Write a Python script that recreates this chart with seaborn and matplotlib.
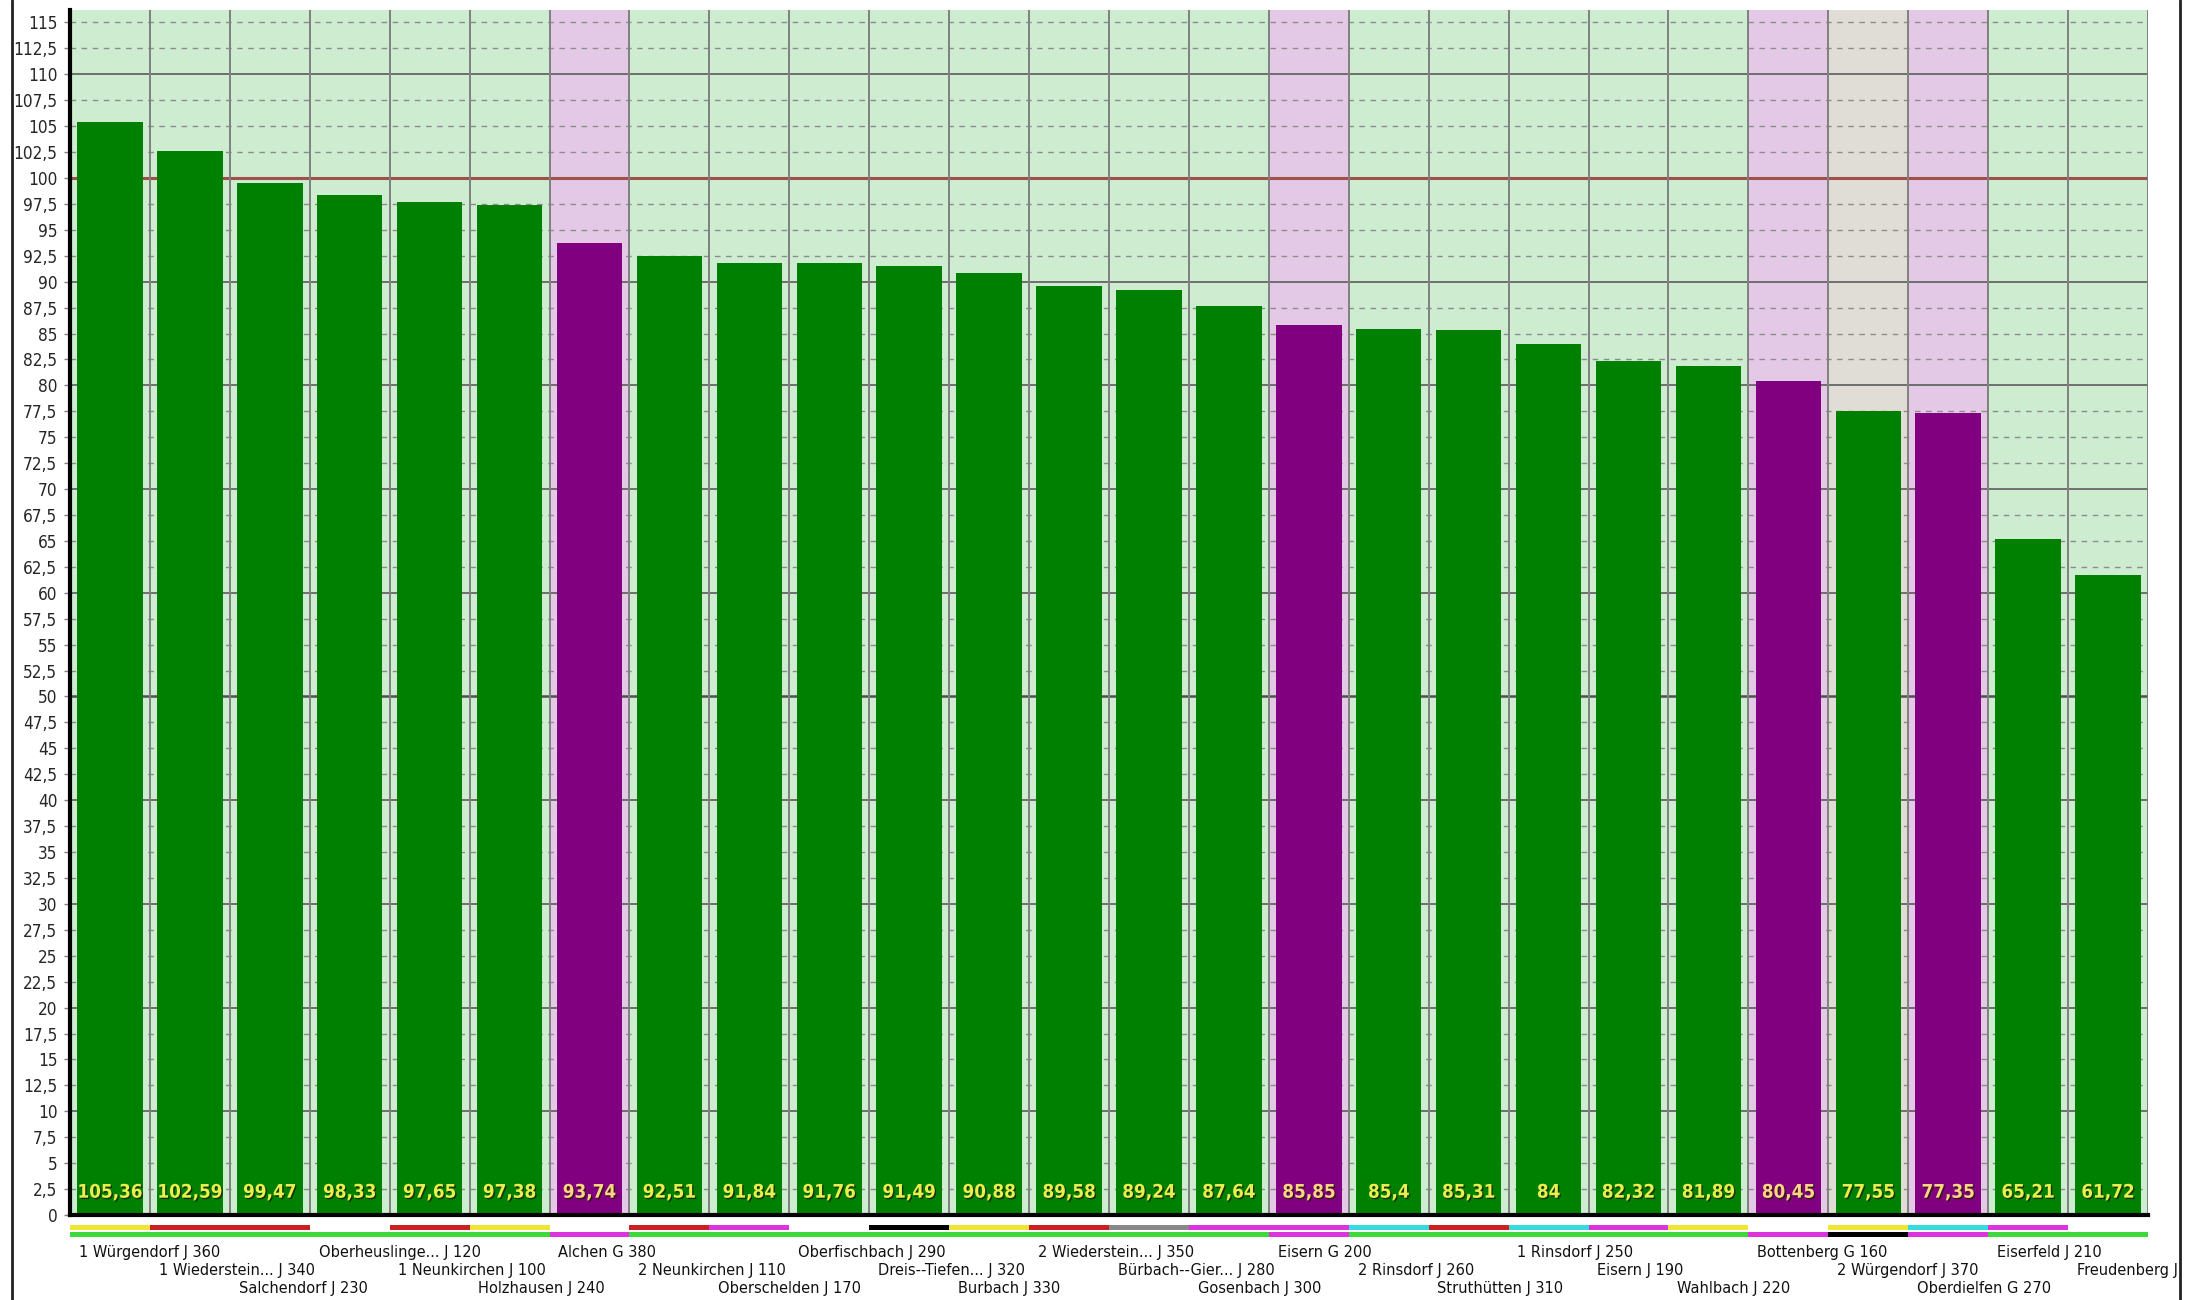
import numpy as np
import matplotlib
matplotlib.use("Agg")
import matplotlib.pyplot as plt
import matplotlib.patheffects as pe
from matplotlib.lines import Line2D
import seaborn as sns

# ---- data ------------------------------------------------------------
names = [
    "1 Würgendorf J 360", "1 Wiederstein... J 340", "Salchendorf J 230",
    "Oberheuslinge... J 120", "1 Neunkirchen J 100", "Holzhausen J 240",
    "Alchen G 380", "2 Neunkirchen J 110", "Oberschelden J 170",
    "Oberfischbach J 290", "Dreis--Tiefen... J 320", "Burbach J 330",
    "2 Wiederstein... J 350", "Bürbach--Gier... J 280", "Gosenbach J 300",
    "Eisern G 200", "2 Rinsdorf J 260", "Struthütten J 310",
    "1 Rinsdorf J 250", "Eisern J 190", "Wahlbach J 220",
    "Bottenberg G 160", "2 Würgendorf J 370", "Oberdielfen G 270",
    "Eiserfeld J 210", "Freudenberg J",
]
values = [105.36, 102.59, 99.47, 98.33, 97.65, 97.38, 93.74, 92.51, 91.84,
          91.76, 91.49, 90.88, 89.58, 89.24, 87.64, 85.85, 85.4, 85.31,
          84, 82.32, 81.89, 80.45, 77.55, 77.35, 65.21, 61.72]
groups = ["J", "J", "J", "J", "J", "J", "G", "J", "J", "J", "J", "J", "J",
          "J", "J", "G", "J", "J", "J", "J", "J", "G", "J", "G", "J", "J"]
slot_bg = ["green"] * 6 + ["pink"] + ["green"] * 8 + ["pink"] + ["green"] * 5 \
    + ["pink", "grey", "pink"] + ["green"] * 2
stripe_top = ["yellow", "red", "red", None, "red", "yellow", None, "red",
              "magenta", None, "black", "yellow", "red", "grey", "magenta",
              "magenta", "cyan", "red", "cyan", "magenta", "yellow", None,
              "yellow", "cyan", "magenta", None]
stripe_bottom = ["green"] * 6 + ["magenta"] + ["green"] * 8 + ["magenta"] \
    + ["green"] * 5 + ["magenta", "black", "magenta"] + ["green"] * 2

# ---- colours --------------------------------------------------------
BAR = {"J": "#008000", "G": "#800080"}
BG = {"green": "#cdecd0", "pink": "#e4c9e6", "grey": "#e0ddd6"}
STRIPE = {"yellow": "#eee633", "red": "#cc2020", "magenta": "#dd33dd",
          "cyan": "#33dddd", "grey": "#888888", "black": "#000000",
          "green": "#3cd83c"}
VALCOL = {"J": "#e8f050", "G": "#ffd585"}

sns.set_theme(style="white")
plt.rcParams["font.family"] = ["DejaVu Sans"]
plt.rcParams["font.stretch"] = "condensed"

W, H = 2190, 1300
fig = plt.figure(figsize=(W / 100, H / 100), dpi=100)
fig.patch.set_facecolor("white")
ax = fig.add_axes([70 / W, 1 - 1215 / H, (2148 - 70) / W, (1215 - 10) / H])

n = len(names)
x = np.arange(n)

# slot backgrounds
for i, bg in enumerate(slot_bg):
    ax.axvspan(i - 0.5, i + 0.5, color=BG[bg], zorder=0, lw=0)

# horizontal grid
for v in np.arange(2.5, 116, 2.5):
    if abs(v - 100) < 1e-6:
        ax.axhline(v, color="#a0504a", lw=2.2, zorder=1)
    elif abs(v - 50) < 1e-6:
        ax.axhline(v, color="#505050", lw=1.8, zorder=1)
    elif v % 10 == 0:
        ax.axhline(v, color="#6e6e6e", lw=1.4, zorder=1)
    else:
        ax.axhline(v, color="#8c8c8c", lw=1.0, ls=(0, (4, 4)), zorder=1)

# vertical slot separators
for b in np.arange(0.5, n, 1.0):
    ax.axvline(b, color="#808080", lw=1.4, zorder=1)

# bars
sns.barplot(x=x, y=values, hue=x, palette=[BAR[g] for g in groups],
            width=0.82, saturation=1, legend=False, ax=ax, zorder=3,
            linewidth=0)

# value labels inside bars
for i, (v, g) in enumerate(zip(values, groups)):
    txt = f"{v:g}".replace(".", ",")
    ax.text(i, 2.2, txt, ha="center", va="center", fontsize=13.5,
            color=VALCOL[g], zorder=5, fontstretch="condensed",
            fontweight="bold",
            path_effects=[pe.withSimplePatchShadow(offset=(1, -1),
                                                   shadow_rgbFace="#202000",
                                                   alpha=0.8)])

# coloured stripes under the axis
for i in range(n):
    if stripe_top[i]:
        ax.bar(i, 0.48, bottom=-1.45, width=1.0, color=STRIPE[stripe_top[i]],
               clip_on=False, lw=0, zorder=3)
    ax.bar(i, 0.5, bottom=-2.15, width=1.0, color=STRIPE[stripe_bottom[i]],
           clip_on=False, lw=0, zorder=3)

# staggered category labels
row_y = [-3.66, -5.40, -7.06]
for i, name in enumerate(names):
    ax.text(i - 0.39, row_y[i % 3], name, ha="left", va="center",
            fontsize=11.7, color="#111111", clip_on=False,
            fontstretch="condensed")

ax.set_xlim(-0.5, n - 0.5)
ax.set_ylim(0, 116.2)
ax.set_xticks([])
ax.set_xlabel("")
ticks = np.arange(0, 115.1, 2.5)
ax.set_yticks(ticks)
ax.set_yticklabels([f"{t:g}".replace(".", ",") for t in ticks], fontsize=12.3,
                   fontstretch="condensed")
ax.tick_params(axis="y", length=4, width=1, color="#808080", pad=5,
               left=True)

for s in ["top", "right"]:
    ax.spines[s].set_visible(False)
ax.spines["left"].set_color("black")
ax.spines["left"].set_linewidth(3)
ax.spines["bottom"].set_color("black")
ax.spines["bottom"].set_linewidth(3)
ax.spines["left"].set_zorder(6)
ax.spines["bottom"].set_zorder(6)

# window frame lines at the sides
fig.add_artist(Line2D([12 / W, 12 / W], [0, 1], color="#222222", lw=2))
fig.add_artist(Line2D([2180 / W, 2180 / W], [0, 1], color="#222222", lw=2))

fig.savefig("out.png", dpi=100)
